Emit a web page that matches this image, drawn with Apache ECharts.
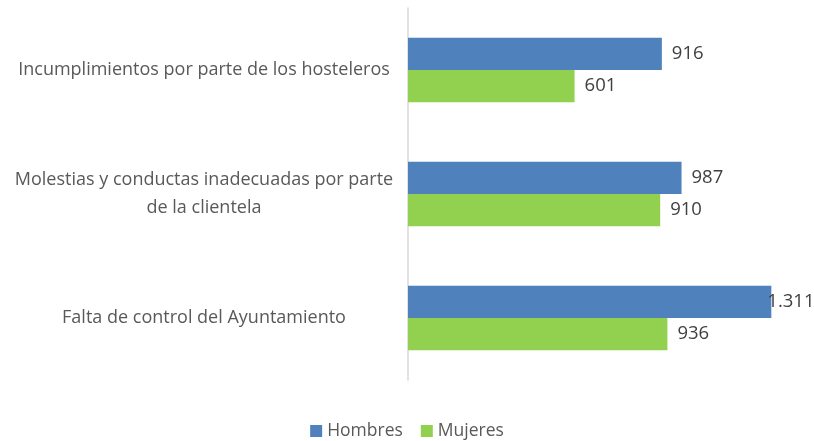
<!DOCTYPE html>
<html>
<head>
<meta charset="utf-8">
<script src="https://cdn.jsdelivr.net/npm/echarts@6/dist/echarts.min.js"></script>
<style>
  html, body { margin: 0; padding: 0; background: #fff; }
  #chart { width: 814px; height: 441px; }
</style>
</head>
<body>
<div id="chart"></div>
<script>
const categories = [
  'Incumplimientos por parte de los hosteleros',
  'Molestias y conductas inadecuadas por parte\nde la clientela',
  'Falta de control del Ayuntamiento'
]
const hombres = [916, 987, 1311]
const mujeres = [601, 910, 936]

const fontFamily = 'Open Sans, Liberation Sans, sans-serif'

// 1311 -> "1.311"
function fmt(v) {
  return String(v).replace(/\B(?=(\d{3})+(?!\d))/g, '.')
}

// long bars get their label pulled back onto the bar end, like the original
function toItems(arr) {
  return arr.map(v => v > 1200 ? { value: v, label: { distance: -4 } } : v)
}

const chart = echarts.init(document.getElementById('chart'))

const labelStyle = {
  show: true,
  position: 'right',
  distance: 10,
  color: '#404040',
  fontSize: 18.5,
  fontFamily: fontFamily,
  formatter: p => fmt(p.value)
}

chart.setOption({
  animation: false,
  grid: {
    left: 408,
    top: 8,
    width: 388,
    height: 372
  },
  legend: {
    top: 417,
    left: 'center',
    itemWidth: 12,
    itemHeight: 12,
    itemGap: 18,
    icon: 'rect',
    textStyle: { color: '#595959', fontSize: 17.5, fontFamily: fontFamily },
    data: ['Hombres', 'Mujeres']
  },
  xAxis: {
    type: 'value',
    min: 0,
    max: 1400,
    axisLabel: { show: false },
    axisLine: { show: false },
    axisTick: { show: false },
    splitLine: { show: false }
  },
  yAxis: {
    type: 'category',
    inverse: true,
    data: categories,
    axisLine: { show: true, lineStyle: { color: '#d9d9d9', width: 1.5 } },
    axisTick: { show: false },
    axisLabel: {
      align: 'center',
      margin: 204,
      color: '#595959',
      fontSize: 18,
      lineHeight: 28,
      fontFamily: fontFamily
    }
  },
  series: [
    {
      name: 'Hombres',
      type: 'bar',
      data: toItems(hombres),
      barGap: '0%',
      barCategoryGap: '48%',
      itemStyle: { color: '#4F81BD' },
      label: labelStyle
    },
    {
      name: 'Mujeres',
      type: 'bar',
      data: toItems(mujeres),
      itemStyle: { color: '#92D050' },
      label: labelStyle
    }
  ]
})
</script>
</body>
</html>
